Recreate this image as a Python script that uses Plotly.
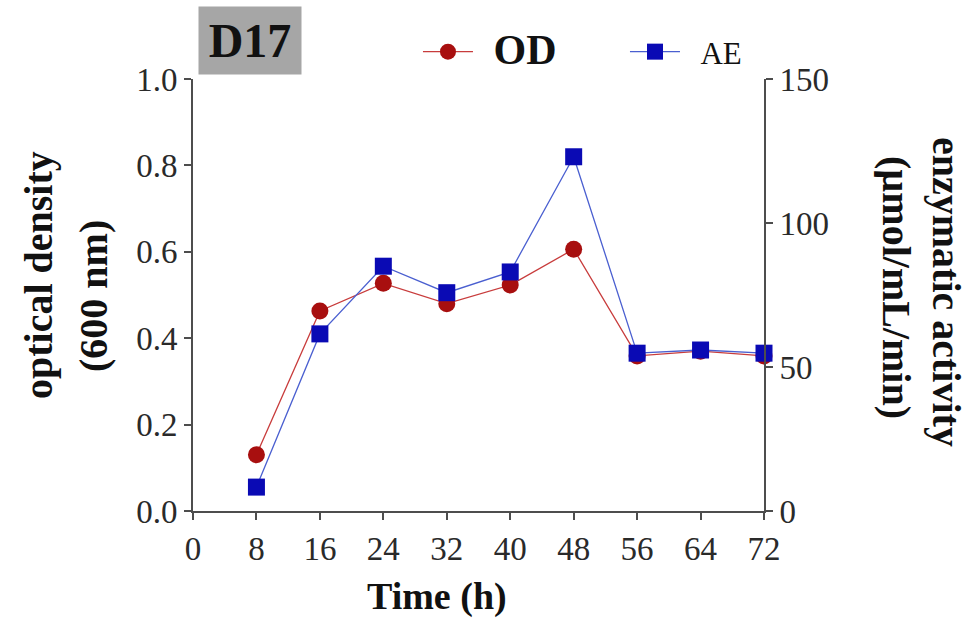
import plotly.graph_objects as go

time_h = [8, 16, 24, 32, 40, 48, 56, 64, 72]
od_values = [0.13, 0.463, 0.527, 0.48, 0.523, 0.606, 0.359, 0.37, 0.359]
ae_values = [8.3, 61.5, 85.0, 75.8, 83.0, 123.0, 54.8, 55.9, 54.8]
x_ticks = [0, 8, 16, 24, 32, 40, 48, 56, 64, 72]
y_ticks = [0.0, 0.2, 0.4, 0.6, 0.8, 1.0]
y2_ticks = [0, 50, 100, 150]

FONT = "Liberation Serif"
AXIS_COLOR = "#4d4d4d"
TICK_FONT = dict(size=33, family=FONT, color="#2a2a2a")

fig = go.Figure()
fig.add_trace(go.Scatter(
    x=time_h, y=od_values, name="&nbsp;&nbsp;<b><span style='font-size:42px'>OD</span></b>",
    mode="lines+markers",
    line=dict(color="#c83c3c", width=1.3),
    marker=dict(symbol="circle", size=17, color="#a80f0f", line=dict(width=0)),
    cliponaxis=False, yaxis="y"))
fig.add_trace(go.Scatter(
    x=time_h, y=ae_values, name="&nbsp;&nbsp;AE", mode="lines+markers",
    line=dict(color="#4a5fd0", width=1.3),
    marker=dict(symbol="square", size=17, color="#0a0ab4", line=dict(width=0)),
    cliponaxis=False, yaxis="y2"))

fig.update_layout(
    width=969, height=620,
    margin=dict(l=193, r=205, t=79, b=109),
    paper_bgcolor="white", plot_bgcolor="white",
    font=dict(family=FONT, color="#1a1a1a"),
    showlegend=True,
    legend=dict(orientation="h", x=0.394, y=1.0625, xanchor="left", yanchor="middle",
                font=dict(size=31, family=FONT, color="#111"), itemwidth=50,
                entrywidth=142, entrywidthmode="pixels", bgcolor="rgba(0,0,0,0)"),
    xaxis=dict(range=[0, 72], tickvals=x_ticks, ticktext=[str(t) for t in x_ticks],
               showgrid=False, zeroline=False, showline=True, linecolor=AXIS_COLOR,
               linewidth=2, ticks="outside", ticklen=7, tickwidth=2, tickcolor=AXIS_COLOR,
               tickfont=TICK_FONT),
    yaxis=dict(range=[0, 1.0], tickvals=y_ticks, ticktext=[f"{v:.1f}" for v in y_ticks],
               showgrid=False, zeroline=False, showline=True, linecolor=AXIS_COLOR,
               linewidth=2, ticks="outside", ticklen=7, tickwidth=2, tickcolor=AXIS_COLOR,
               tickfont=TICK_FONT),
    yaxis2=dict(range=[0, 150], tickvals=y2_ticks, ticktext=[str(v) for v in y2_ticks],
                overlaying="y", side="right", anchor="x",
                showgrid=False, zeroline=False, showline=True, linecolor=AXIS_COLOR,
                linewidth=2, ticks="outside", ticklen=7, tickwidth=2, tickcolor=AXIS_COLOR,
                tickfont=TICK_FONT),
)

def px_to_paper_x(px):
    return (px - 193) / (969 - 193 - 205)

def px_to_paper_y(py):
    return (620 - 109 - py) / (620 - 79 - 109)

TITLE_FONT = dict(size=40, family=FONT, color="#111")
annotations = [
    dict(text="<b>Time (h)</b>", x=px_to_paper_x(437), y=px_to_paper_y(596),
         font=dict(size=38, family=FONT, color="#111")),
    dict(text="<b>optical density</b>", x=px_to_paper_x(38), y=px_to_paper_y(275), textangle=-90,
         font=TITLE_FONT),
    dict(text="<b>(600 nm)</b>", x=px_to_paper_x(93), y=px_to_paper_y(296), textangle=-90,
         font=TITLE_FONT),
    dict(text="<b>enzymatic activity</b>", x=px_to_paper_x(947), y=px_to_paper_y(292), textangle=90,
         font=TITLE_FONT),
    dict(text="<b>(µmol/mL/min)</b>", x=px_to_paper_x(897), y=px_to_paper_y(287), textangle=90,
         font=TITLE_FONT),
    dict(text="<b>D17</b>", x=px_to_paper_x(250), y=px_to_paper_y(40),
         font=dict(size=48, family=FONT, color="#111"),
         bgcolor="#a6a6a6", width=102, height=67, borderpad=0),
]
for a in annotations:
    a.update(xref="paper", yref="paper", showarrow=False, xanchor="center", yanchor="middle")
fig.update_layout(annotations=annotations)

fig.write_html("out.html")
